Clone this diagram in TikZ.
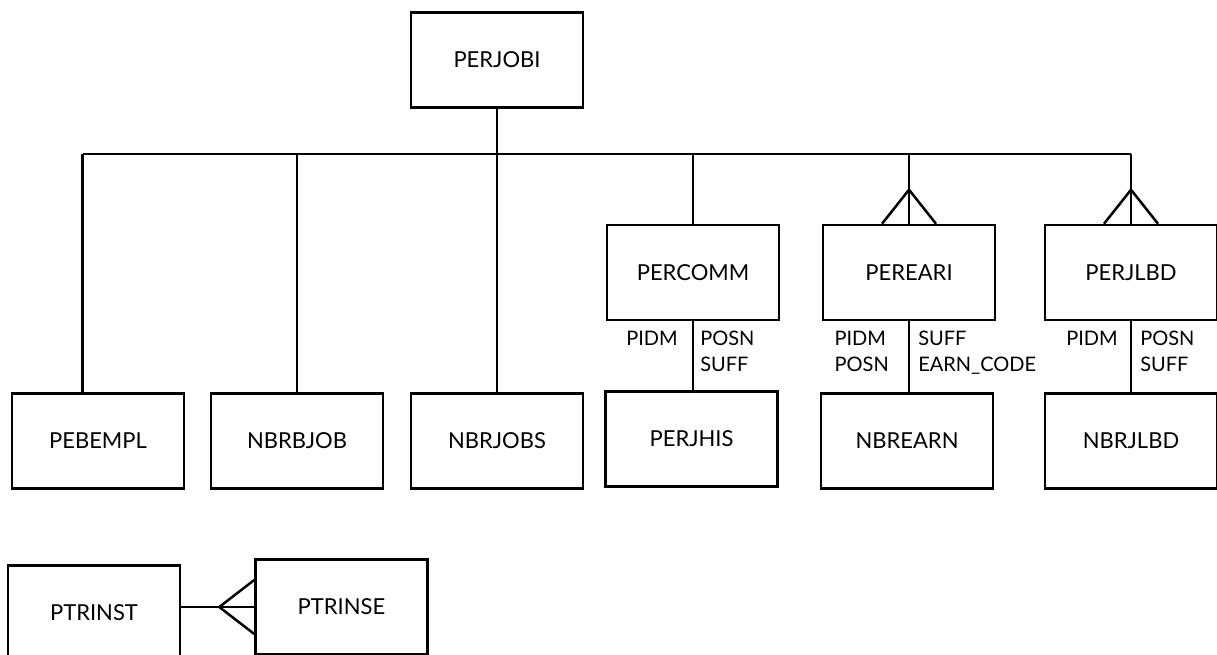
\documentclass[tikz,border=0pt]{standalone}
\usepackage{fontspec}
\setmainfont{Lato}
\usetikzlibrary{calc}

\begin{document}
\begin{tikzpicture}[x=1pt, y=-1pt, line width=2.5pt,
  entity/.style={draw, rectangle, minimum width=172pt, minimum height=95pt,
    inner sep=0pt, font=\fontsize{22}{26}\selectfont},
  keys/.style={inner sep=0pt, align=left, font=\fontsize{20}{26}\selectfont}]

\useasboundingbox (0,0) rectangle (1217,655);

% entities
\node[entity] (perjobi) at (497,60)    {PERJOBI};
\node[entity] (percomm) at (693,272.5) {PERCOMM};
\node[entity] (pereari) at (909,272.5) {PEREARI};
\node[entity] (perjlbd) at (1131,272.5) {PERJLBD};

\node[entity] (pebempl) at (98,441)    {PEBEMPL};
\node[entity] (nbrbjob) at (297,441)   {NBRBJOB};
\node[entity] (nbrjobs) at (497,441)   {NBRJOBS};
\node[entity] (perjhis) at (691.5,439) {PERJHIS};
\node[entity] (nbrearn) at (907,441)   {NBREARN};
\node[entity] (nbrjlbd) at (1131,441)  {NBRJLBD};

\node[entity] (ptrinst) at (94,613)    {PTRINST};
\node[entity] (ptrinse) at (341.5,607) {PTRINSE};

% bus under PERJOBI
\coordinate (busL) at (82.7,154);
\coordinate (busR) at (1131,154);
\draw (busL) -- (busR);
\draw (perjobi.south) -- (nbrjobs.north);
\draw (busL) -- (busL |- pebempl.north);
\draw (nbrbjob.north |- busL) -- (nbrbjob.north);
\draw (percomm.north |- busL) -- (percomm.north);
\draw (pereari.north |- busL) -- (pereari.north);
\draw (busR) -- (perjlbd.north);

% many-side crow's feet
\draw ($(pereari.north)+(-27,0)$) -- ($(pereari.north)+(0,-34)$) -- ($(pereari.north)+(27,0)$);
\draw ($(perjlbd.north)+(-27,0)$) -- ($(perjlbd.north)+(0,-34)$) -- ($(perjlbd.north)+(27,0)$);

% second-level links
\draw (percomm.south) -- (percomm.south |- perjhis.north);
\draw (pereari.south) -- (pereari.south |- nbrearn.north);
\draw (perjlbd.south) -- (nbrjlbd.north);

% key labels
\node[keys, anchor=north east] (k1) at ($(percomm.south)+(-14,9)$) {PIDM};
\node[keys, anchor=north west] (k2) at ($(percomm.south)+(6,9)$)   {POSN\\SUFF};
\node[keys, anchor=north east] (k3) at ($(pereari.south)+(-19,9)$) {PIDM\\POSN};
\node[keys, anchor=north west] (k4) at ($(pereari.south)+(8,9)$)   {SUFF\\EARN\_CODE};
\node[keys, anchor=north east] (k5) at ($(perjlbd.south)+(-12,9)$) {PIDM};
\node[keys, anchor=north west] (k6) at ($(perjlbd.south)+(8,9)$)   {POSN\\SUFF};

% PTRINST -- PTRINSE
\coordinate (tfoot) at ($(ptrinse.west)+(-35,0)$);
\draw (ptrinst.east |- ptrinse.west) -- (ptrinse.west);
\draw ($(ptrinse.west)+(0,-27)$) -- (tfoot) -- ($(ptrinse.west)+(0,27)$);
\end{tikzpicture}
\end{document}
